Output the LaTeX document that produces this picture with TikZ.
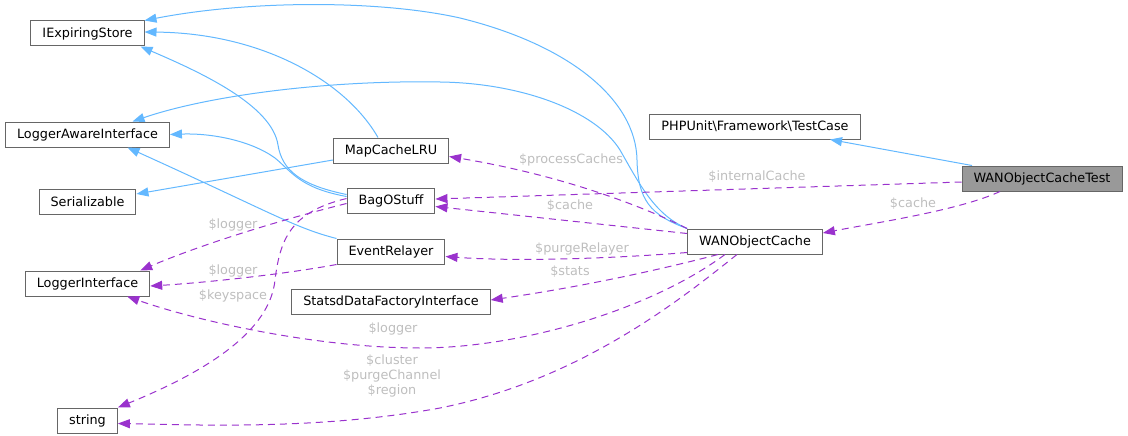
\documentclass[tikz,border=0pt]{standalone}
\usepackage{fontspec}
\setmainfont{DejaVu Sans}
\usepackage{xcolor}
\usepackage{tikz}
\usetikzlibrary{arrows.meta, positioning}
\definecolor{inhblue}{RGB}{99,184,255}
\definecolor{memberpurple}{RGB}{154,50,205}
\definecolor{boxgray}{RGB}{102,102,102}
\definecolor{selgray}{RGB}{153,153,153}
\definecolor{lblgray}{RGB}{190,190,190}

\begin{document}
\begin{tikzpicture}[
    x=1pt, y=-1pt,
    every node/.style={font=\fontsize{12.8}{15}\selectfont},
    box/.style={rectangle, draw=boxgray, line width=1pt, fill=white, inner xsep=11.5pt, minimum height=25pt},
    inherit/.style={-{Triangle[length=12pt, width=9pt]}, draw=inhblue, line width=1pt},
    member/.style={-{Triangle[length=12pt, width=9pt]}, draw=memberpurple, line width=1pt, dash pattern=on 7pt off 5pt},
    lbl/.style={text=lblgray, inner sep=0pt, align=center}
]
\useasboundingbox (0,0) rectangle (1128,436);

\node[box] (iexp) at (87.5,33.5) {IExpiringStore};
\node[box, below=75pt of iexp] (lai) {LoggerAwareInterface};
\node[box, below=41pt of lai] (ser) {Serializable};
\node[box, below=56pt of ser] (lci) {LoggerInterface};
\node[box, below=111pt of lci] (str) {string};
\node[box] (mcl) at (391,150.5) {MapCacheLRU};
\node[box, below=24pt of mcl] (bag) {BagOStuff};
\node[box, below=25pt of bag] (evr) {EventRelayer};
\node[box, below=24pt of evr] (sdf) {StatsdDataFactoryInterface};
\node[box] (tc) at (755,126.5) {PHPUnit\textbackslash Framework\textbackslash TestCase};
\node[box, below=89pt of tc] (wan) {WANObjectCache};
\node[box, fill=selgray] (test) at (1042,178.5) {WANObjectCacheTest};

\draw[inherit] (wan.north west) .. controls (650,215) and (638,200) .. (637,160) .. controls (636,100) and (570,45) .. (460,18) .. controls (380,0) and (250,0) .. (iexp.north east);
\draw[inherit] (wan.north west) .. controls (655,215) and (640,185) .. (620,150) .. controls (595,110) and (520,83) .. (440,82) .. controls (330,80) and (210,95) .. ([xshift=45pt]lai.north);
\draw[inherit] ([yshift=6pt]bag.west) .. controls (300,185) and (282,170) .. (278,145) .. controls (272,105) and (200,72) .. ([xshift=-4pt]iexp.south east);
\draw[inherit] ([yshift=4pt]bag.west) .. controls (300,188) and (292,172) .. (275,158) .. controls (250,140) and (210,133) .. (lai.east);
\draw[inherit] ([xshift=-13pt]mcl.north) .. controls (345,80) and (260,33) .. ([yshift=1.5pt]iexp.east);
\draw[inherit] ([yshift=-9.5pt]mcl.west) -- ([yshift=7.5pt]ser.east);
\draw[inherit] (evr.north west) .. controls (295,228) and (270,212) .. ([xshift=40pt]lai.south);
\draw[inherit] ([xshift=-70pt]test.north) -- ([xshift=75pt]tc.south);

\draw[member] ([yshift=-3.5pt]test.west) -- ([yshift=1.5pt]bag.east);
\draw[member] ([xshift=-42pt]test.south) .. controls (960,210) and (880,222) .. ([yshift=8.5pt]wan.east);
\draw[member] (wan.north west) .. controls (640,205) and (560,175) .. ([yshift=-6pt]mcl.east);
\draw[member] ([yshift=8pt]wan.west) -- ([yshift=-6pt]bag.east);
\draw[member] ([yshift=-11pt]wan.west) .. controls (620,258) and (520,262) .. ([yshift=-5pt]evr.east);
\draw[member] ([xshift=-37pt]wan.south) .. controls (640,275) and (560,290) .. ([yshift=1.5pt]sdf.east);
\draw[member] ([xshift=-30pt]wan.south) .. controls (650,310) and (520,348) .. (420,348) .. controls (320,348) and (200,322) .. ([xshift=-23pt]lci.south east);
\draw[member] ([xshift=-18pt]wan.south) .. controls (680,300) and (580,380) .. (440,408) .. controls (320,430) and (200,425) .. ([yshift=-3pt]str.east);
\draw[member] ([yshift=-3pt]bag.west) .. controls (280,220) and (200,245) .. ([xshift=-10pt]lci.north east);
\draw[member] (evr.south west) .. controls (280,275) and (200,283) .. ([yshift=-2.5pt]lci.east);
\draw[member] ([yshift=2pt]bag.west) .. controls (290,212) and (280,240) .. (275,280) .. controls (270,330) and (210,370) .. (str.north east);

\node[lbl] (linternal) at (757,177) {\$internalCache};
\node[lbl] (ltestcache) at (913,204) {\$cache};
\node[lbl] (lprocess) at (571,160) {\$processCaches};
\node[lbl] (lcache) at (570,206) {\$cache};
\node[lbl] (lrelayer) at (582,249) {\$purgeRelayer};
\node[lbl] (lstats) at (570,272) {\$stats};
\node[lbl] (lwanlogger) at (393,329) {\$logger};
\node[lbl] (lstrings) at (392,376) {\$cluster\\\$purgeChannel\\\$region};
\node[lbl] (lbaglogger) at (233,225) {\$logger};
\node[lbl] (levrlogger) at (233,271) {\$logger};
\node[lbl] (lkeyspace) at (233,296) {\$keyspace};
\end{tikzpicture}
\end{document}
